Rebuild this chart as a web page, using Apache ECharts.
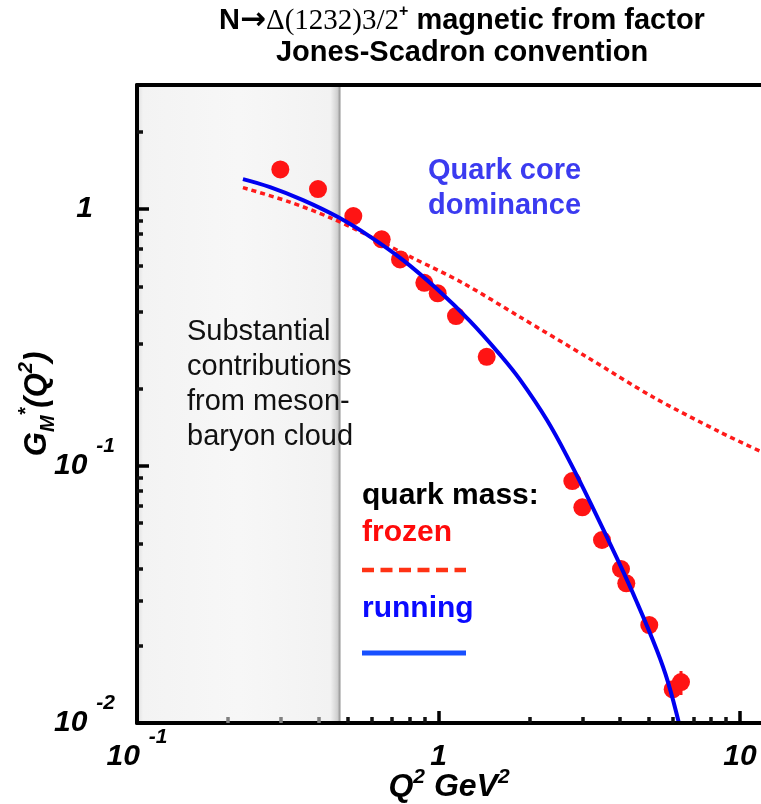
<!DOCTYPE html>
<html>
<head>
<meta charset="utf-8">
<script src="https://cdn.jsdelivr.net/npm/echarts@6/dist/echarts.min.js"></script>
<style>html,body{margin:0;padding:0;background:#fff}#c{width:761px;height:804px}</style>
</head>
<body>
<div id="c"></div>
<script>
// ---- data ----
const dataQ2 = [0.2988, 0.3984, 0.5218, 0.6480, 0.7455, 0.8973, 0.9939, 1.1430, 1.4448, 2.7789, 2.9995, 3.4851, 4.0302, 4.1967, 5.0016, 5.9811, 6.3729];
const dataGM = [1.4272, 1.1963, 0.9392, 0.7625, 0.6370, 0.5167, 0.4700, 0.3835, 0.2662, 0.08741, 0.06908, 0.05154, 0.03975, 0.03497, 0.02406, 0.01352, 0.01443];
const errQ2 = [6.3729];
const errLow = [0.01285];
const errHigh = [0.01593];
const frozenQ2 = [0.2246, 0.3216, 0.4368, 0.5619, 0.8231, 1.2059, 1.8632, 3.1092, 5.1450, 8.5839, 11.830];
const frozenGM = [1.2124, 1.0648, 0.9267, 0.8067, 0.6446, 0.5153, 0.3801, 0.2655, 0.1856, 0.1356, 0.1133];
const runningQ2 = [0.2246, 0.2762, 0.3552, 0.4607, 0.5927, 0.7627, 0.9886, 1.2722, 1.5996, 1.8632, 2.2891, 2.7305, 3.2540, 3.9088, 4.5531, 5.3046, 5.7704, 6.3486];
const runningGM = [1.3083, 1.2179, 1.0840, 0.9351, 0.7816, 0.6331, 0.4884, 0.3665, 0.2713, 0.2169, 0.1510, 0.1036, 0.06865, 0.04370, 0.02946, 0.01916, 0.01443, 0.009435];
const xMajorTicks = [0.1, 1, 10];
const xMinorTicksShaded = [0.2, 0.3, 0.4];
const xMinorTicks = [0.5, 0.6, 0.7, 0.8, 0.9, 2, 3, 4, 5, 6, 7, 8, 9];
const yMajorTicks = [0.01, 0.1, 1];
const yMinorTicks = [0.02, 0.03, 0.04, 0.05, 0.06, 0.07, 0.08, 0.09, 0.2, 0.3, 0.4, 0.5, 0.6, 0.7, 0.8, 0.9, 2];
const shadedRegion = [0.1, 0.473];
const xRange = [0.1, 11.74];
const yRange = [0.01, 3.04];

// ---- styling ----
const SANS = '"Liberation Sans", Arial, Helvetica, sans-serif';
const SERIF = '"Liberation Serif", "Times New Roman", serif';

const labelRich = {
  b:   {fontSize: 30, fontWeight: 'bold', fontStyle: 'italic', fontFamily: SANS, color: '#000', lineHeight: 60, verticalAlign: 'middle'},
  sup: {fontSize: 21, fontWeight: 'bold', fontStyle: 'italic', fontFamily: SANS, color: '#000', lineHeight: 21, verticalAlign: 'top'},
  sp:  {width: 9, lineHeight: 21},
  gap: {width: 22, lineHeight: 21}
};
function expLabel(v, isY) {
  const e = Math.round(Math.log10(v));
  if (Math.abs(Math.log10(v) - e) > 1e-6) return '';
  if (e === 0) return isY ? '{b|1}{gap|}' : '{b|1}';
  if (e === 1) return '{b|10}';
  return '{b|10}{sp|}{sup|' + e + '}';
}

function minorX(values, color) {
  return {
    type: 'log', logBase: 10, min: xRange[0], max: xRange[1], position: 'bottom', gridIndex: 0,
    axisLine: {show: false, onZero: false},
    axisTick: {show: true, inside: true, length: 6, customValues: values, lineStyle: {color: color, width: 3.5}},
    axisLabel: {show: false}, splitLine: {show: false}, z: 6
  };
}

const chart = echarts.init(document.getElementById('c'), null, {renderer: 'canvas'});

const option = {
  animation: false,
  backgroundColor: '#fff',
  grid: {left: 137, right: 0, top: 85, bottom: 81, containLabel: false, outerBoundsMode: 'none'},
  xAxis: [
    {
      type: 'log', logBase: 10, min: xRange[0], max: xRange[1], position: 'bottom',
      axisLine: {show: true, onZero: false, lineStyle: {color: '#000', width: 4}},
      axisTick: {show: true, inside: true, length: 12, customValues: xMajorTicks, lineStyle: {color: '#000', width: 3.5}},
      axisLabel: {show: true, customValues: xMajorTicks, margin: 4, formatter: v => expLabel(v, false), rich: labelRich},
      splitLine: {show: false},
      name: '{g|Q}{sup|2}{g| GeV}{sup|2}', nameLocation: 'middle', nameGap: 44, nameMoveOverlap: false,
      nameTextStyle: {rich: {
        g:   {fontSize: 32, fontWeight: 'bold', fontStyle: 'italic', fontFamily: SANS, color: '#000', lineHeight: 40, verticalAlign: 'middle'},
        sup: {fontSize: 21, fontWeight: 'bold', fontStyle: 'italic', fontFamily: SANS, color: '#000', lineHeight: 21, verticalAlign: 'top'}
      }},
      z: 6
    },
    minorX(xMinorTicks, '#111'),
    minorX(xMinorTicksShaded, '#808080'),
    {
      type: 'log', logBase: 10, min: xRange[0], max: xRange[1], position: 'top',
      axisLine: {show: true, onZero: false, lineStyle: {color: '#000', width: 4}},
      axisTick: {show: false}, axisLabel: {show: false}, splitLine: {show: false}, z: 6
    }
  ],
  yAxis: [
    {
      type: 'log', logBase: 10, min: yRange[0], max: yRange[1], position: 'left',
      axisLine: {show: true, onZero: false, lineStyle: {color: '#000', width: 4}},
      axisTick: {show: true, inside: true, length: 12, customValues: yMajorTicks, lineStyle: {color: '#000', width: 3.5}},
      axisLabel: {show: true, customValues: yMajorTicks, margin: 22, formatter: v => expLabel(v, true), rich: labelRich},
      splitLine: {show: false},
      name: '{g|G}{sub|M}{sup|*}{g|(Q}{sup|2}{g|)}', nameLocation: 'middle', nameGap: 79, nameRotate: 90, nameMoveOverlap: false,
      nameTextStyle: {rich: {
        g:   {fontSize: 31, fontWeight: 'bold', fontStyle: 'italic', fontFamily: SANS, color: '#000', lineHeight: 42, verticalAlign: 'middle'},
        sub: {fontSize: 20, fontWeight: 'bold', fontStyle: 'italic', fontFamily: SANS, color: '#000', lineHeight: 20, verticalAlign: 'bottom'},
        sup: {fontSize: 20, fontWeight: 'bold', fontStyle: 'italic', fontFamily: SANS, color: '#000', lineHeight: 20, verticalAlign: 'top'}
      }},
      z: 6
    },
    {
      type: 'log', logBase: 10, min: yRange[0], max: yRange[1], position: 'left',
      axisLine: {show: false, onZero: false},
      axisTick: {show: true, inside: true, length: 6, customValues: yMinorTicks, lineStyle: {color: '#111', width: 3.5}},
      axisLabel: {show: false}, splitLine: {show: false}, z: 6
    }
  ],
  series: [
    {
      name: 'meson-baryon region', type: 'line', xAxisIndex: 0, yAxisIndex: 0, data: [], z: 1, silent: true,
      markArea: {
        silent: true,
        itemStyle: {
          color: new echarts.graphic.LinearGradient(0, 0, 1, 0, [
            {offset: 0, color: '#dedede'},
            {offset: 0.03, color: '#f3f3f3'},
            {offset: 0.5, color: '#f7f7f7'},
            {offset: 0.95, color: '#f2f2f2'},
            {offset: 0.985, color: '#d0d0d0'},
            {offset: 1, color: '#8a8a8a'}
          ])
        },
        data: [[{xAxis: shadedRegion[0]}, {xAxis: shadedRegion[1]}]]
      }
    },
    {
      name: 'data', type: 'scatter', xAxisIndex: 0, yAxisIndex: 0, z: 2,
      symbol: 'circle', symbolSize: 18,
      itemStyle: {color: '#ff1414', opacity: 1},
      data: dataQ2.map((q, i) => [q, dataGM[i]])
    },
    {
      name: 'error', type: 'custom', xAxisIndex: 0, yAxisIndex: 0, z: 2,
      data: errQ2.map((q, i) => [q, errLow[i], errHigh[i]]),
      encode: {x: 0, y: [1, 2]},
      renderItem: function (params, api) {
        const lo = api.coord([api.value(0), api.value(1)]);
        const hi = api.coord([api.value(0), api.value(2)]);
        return {type: 'line', shape: {x1: lo[0], y1: lo[1], x2: hi[0], y2: hi[1]}, style: {stroke: '#ff1414', lineWidth: 3}};
      }
    },
    {
      name: 'frozen', type: 'line', xAxisIndex: 0, yAxisIndex: 0, z: 3,
      smooth: 0.3, symbol: 'none',
      lineStyle: {color: '#ff1a1a', width: 3.5, type: [5, 4]},
      data: frozenQ2.map((q, i) => [q, frozenGM[i]])
    },
    {
      name: 'running', type: 'line', xAxisIndex: 0, yAxisIndex: 0, z: 3,
      smooth: 0.4, symbol: 'none',
      lineStyle: {color: '#0000f0', width: 4},
      data: runningQ2.map((q, i) => [q, runningGM[i]])
    }
  ],
  graphic: [
    {
      type: 'text', z: 10, x: 462, y: 21,
      style: {
        text: '{b|N}{a|→}{s|Δ(1232)3/2}{p|+}{b| magnetic from factor}',
        textAlign: 'center', textVerticalAlign: 'middle',
        rich: {
          b: {fontSize: 29, fontWeight: 'bold', fontFamily: SANS, fill: '#000', lineHeight: 34, verticalAlign: 'middle'},
          a: {fontSize: 31, fontWeight: 'bold', fontFamily: '"DejaVu Sans", sans-serif', fill: '#000', lineHeight: 34, verticalAlign: 'middle'},
          s: {fontSize: 29, fontFamily: SERIF, fill: '#000', lineHeight: 34, verticalAlign: 'middle'},
          p: {fontSize: 16, fontWeight: 'bold', fontFamily: SANS, fill: '#000', lineHeight: 26, verticalAlign: 'top'}
        }
      }
    },
    {
      type: 'text', z: 10, x: 462, y: 53,
      style: {text: 'Jones-Scadron convention', textAlign: 'center', textVerticalAlign: 'middle',
        font: 'bold 29px ' + SANS, fill: '#000'}
    },
    {
      type: 'text', z: 10, x: 428, y: 153,
      style: {text: 'Quark core\ndominance', textAlign: 'left', textVerticalAlign: 'top',
        font: 'bold 29px ' + SANS, lineHeight: 35, fill: '#3b3bf0'}
    },
    {
      type: 'text', z: 10, x: 187, y: 315,
      style: {text: 'Substantial\ncontributions\nfrom meson-\nbaryon cloud', textAlign: 'left', textVerticalAlign: 'top',
        font: '29px ' + SANS, lineHeight: 34.8, fill: '#111'}
    },
    {
      type: 'text', z: 10, x: 362, y: 496,
      style: {text: 'quark mass:', textAlign: 'left', textVerticalAlign: 'middle', font: 'bold 30px ' + SANS, fill: '#000'}
    },
    {
      type: 'text', z: 10, x: 362, y: 532.5,
      style: {text: 'frozen', textAlign: 'left', textVerticalAlign: 'middle', font: 'bold 30px ' + SANS, fill: '#ff0a0a'}
    },
    {
      type: 'line', z: 10,
      shape: {x1: 362, y1: 570, x2: 466, y2: 570},
      style: {stroke: '#ff3214', lineWidth: 4.5, lineDash: [12, 6.5]}
    },
    {
      type: 'text', z: 10, x: 362, y: 609,
      style: {text: 'running', textAlign: 'left', textVerticalAlign: 'middle', font: 'bold 30px ' + SANS, fill: '#0a0aff'}
    },
    {
      type: 'line', z: 10,
      shape: {x1: 362, y1: 653, x2: 466, y2: 653},
      style: {stroke: '#1850ff', lineWidth: 5}
    }
  ]
};
chart.setOption(option);
</script>
</body>
</html>
